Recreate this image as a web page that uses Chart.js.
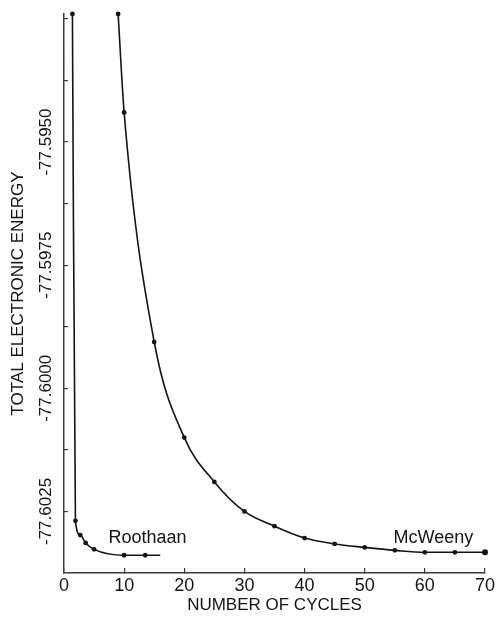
<!DOCTYPE html>
<html>
<head>
<meta charset="utf-8">
<script src="https://cdn.jsdelivr.net/npm/chart.js@4.4.1/dist/chart.umd.min.js"></script>
<style>
  html, body { margin: 0; padding: 0; background: #fff; }
</style>
</head>
<body>
<canvas id="chart" width="496" height="623"></canvas>
<script>
// Values: cycle number vs total electronic energy
const roothaanCycles = [1.4, 1.9, 2.7, 3.6, 5, 10, 13.5, 16];
const roothaanEnergy = [-77.5924, -77.60269, -77.60298, -77.60314, -77.60327, -77.60339, -77.60339, -77.60339];
const mcweenyCycles = [9, 10, 15, 20, 25, 30, 35, 40, 45, 50, 55, 60, 65, 70];
const mcweenyEnergy = [-77.5924, -77.5944, -77.59906, -77.6010, -77.6019, -77.6025, -77.6028, -77.60304,
                       -77.60316, -77.60323, -77.60329, -77.60333, -77.60333, -77.60333];
const xTicks = [0, 10, 20, 30, 40, 50, 60, 70];
const yTicks = [-77.5925, -77.59375, -77.5950, -77.59625, -77.5975, -77.59875, -77.6000, -77.60125, -77.6025];
const yTickLabels = ['', '', '-77.5950', '', '-77.5975', '', '-77.6000', '', '-77.6025'];

const INK = '#141414';
const AXIS = '#3a3a3a';

function toPoints(xs, ys) {
    return xs.map((x, i) => ({ x: x, y: ys[i] }));
}

// rotated y tick labels and the two curve names
const labelPlugin = {
    id: 'labels',
    afterDraw(chart) {
        const ctx = chart.ctx;
        const xs = chart.scales.x;
        const ys = chart.scales.y;
        ctx.save();
        ctx.fillStyle = INK;
        ctx.font = '17px "Liberation Sans Narrow", "Liberation Sans", sans-serif';
        ctx.textAlign = 'center';
        ctx.textBaseline = 'middle';
        yTicks.forEach((v, i) => {
            if (!yTickLabels[i]) return;
            ctx.save();
            ctx.translate(46, ys.getPixelForValue(v));
            ctx.rotate(-Math.PI / 2);
            ctx.fillText(yTickLabels[i], 0, 0);
            ctx.restore();
        });
        ctx.font = '18px "Liberation Sans", sans-serif';
        ctx.textAlign = 'left';
        ctx.fillText('Roothaan', xs.getPixelForValue(7.4), ys.getPixelForValue(-77.60304));
        ctx.fillText('McWeeny', xs.getPixelForValue(54.8), ys.getPixelForValue(-77.60304));
        ctx.restore();
    }
};

const lineStyle = {
    borderColor: INK,
    backgroundColor: INK,
    borderWidth: 1.6,
    pointBackgroundColor: INK,
    pointBorderWidth: 0,
    showLine: true,
    cubicInterpolationMode: 'monotone',
    clip: false
};

new Chart(document.getElementById('chart'), {
    type: 'scatter',
    data: {
        datasets: [
            Object.assign({
                label: 'Roothaan',
                data: toPoints(roothaanCycles, roothaanEnergy),
                pointRadius: roothaanCycles.map((c, i) => i === roothaanCycles.length - 1 ? 0 : 2.4)
            }, lineStyle),
            Object.assign({
                label: 'McWeeny',
                data: toPoints(mcweenyCycles, mcweenyEnergy),
                pointRadius: mcweenyCycles.map((c, i) => i === mcweenyCycles.length - 1 ? 3 : 2.4)
            }, lineStyle)
        ]
    },
    options: {
        responsive: false,
        animation: false,
        layout: { padding: { top: 14, right: 11, left: 0, bottom: 0 } },
        plugins: {
            legend: { display: false },
            tooltip: { enabled: false }
        },
        scales: {
            x: {
                type: 'linear',
                min: 0,
                max: 70,
                afterBuildTicks: (scale) => { scale.ticks = xTicks.map(v => ({ value: v })); },
                afterFit: (scale) => {
                    scale.height = 50;
                    scale.paddingLeft = 0;
                    scale.paddingRight = 0;
                },
                border: { color: AXIS, width: 1.5 },
                grid: { drawOnChartArea: false, color: AXIS, lineWidth: 1.2, tickLength: -5 },
                ticks: {
                    color: INK,
                    padding: 7,
                    maxRotation: 0,
                    font: { family: '"Liberation Sans Narrow", "Liberation Sans", sans-serif', size: 18 }
                },
                title: {
                    display: true,
                    text: 'NUMBER OF CYCLES',
                    color: INK,
                    font: { family: '"Liberation Sans", sans-serif', size: 17 },
                    padding: { top: 0, bottom: 7 }
                }
            },
            y: {
                type: 'linear',
                min: -77.60375,
                max: -77.5924,
                afterBuildTicks: (scale) => { scale.ticks = yTicks.map(v => ({ value: v })); },
                afterFit: (scale) => { scale.width = 64; },
                border: { color: AXIS, width: 1.5 },
                grid: { drawOnChartArea: false, color: AXIS, lineWidth: 1.2, tickLength: -4 },
                ticks: { display: false },
                title: {
                    display: true,
                    text: 'TOTAL ELECTRONIC ENERGY',
                    color: INK,
                    font: { family: '"Liberation Sans", sans-serif', size: 17 },
                    padding: { top: 8, bottom: 0 }
                }
            }
        }
    },
    plugins: [labelPlugin]
});
</script>
</body>
</html>
